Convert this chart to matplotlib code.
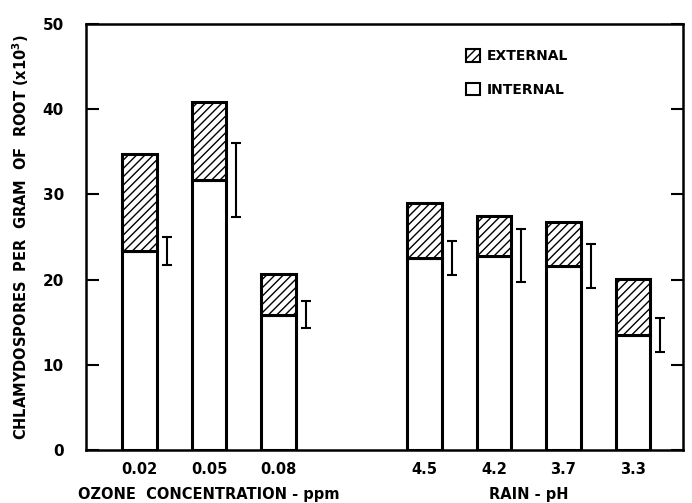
import matplotlib
matplotlib.use('Agg')
import matplotlib.pyplot as plt
from matplotlib.patches import Patch
import numpy as np


# data (x10^3 chlamydospores per gram of root)
labels = ['0.02', '0.05', '0.08', '4.5', '4.2', '3.7', '3.3']
positions = [0, 1, 2, 4.1, 5.1, 6.1, 7.1]
internal = [23.4, 31.7, 15.9, 22.5, 22.8, 21.6, 13.5]
total = [34.8, 40.9, 20.7, 29.0, 27.5, 26.8, 20.1]
internal_err = [1.65, 4.4, 1.6, 2.0, 3.1, 2.55, 2.0]

external = np.array(total) - np.array(internal)

lw = 2.2
width = 0.5
errOffset = 0.39

plt.rcParams['font.family'] = 'DejaVu Sans'
plt.rcParams['font.weight'] = 'bold'
plt.rcParams['hatch.linewidth'] = 1.0

fig = plt.figure(figsize=(6.92, 5.03), dpi=100)
ax = fig.add_axes([0.1243, 0.1054, 0.8627, 0.8466])

ax.bar(positions, internal, width=width, color='white', edgecolor='black',
       linewidth=lw, zorder=2)
ax.bar(positions, external, width=width, bottom=internal, color='white',
       edgecolor='black', hatch='////', linewidth=lw, zorder=2)

# error bars sit just right of each bar, around the internal value
ax.errorbar(np.array(positions) + errOffset, internal, yerr=internal_err,
            fmt='none', ecolor='black', elinewidth=1.5, capsize=3.5,
            capthick=1.5, zorder=3)

ax.set_xlim(-0.77, 7.82)
ax.set_ylim(0, 50)
ax.set_yticks([0, 10, 20, 30, 40, 50])
ax.set_yticklabels(['0', '10', '20', '30', '40', '50'])
ax.set_xticks(positions)
ax.set_xticklabels(labels)

ax.tick_params(axis='y', direction='in', length=9, width=1.5, right=True,
               labelsize=11, pad=16)
ax.tick_params(axis='x', length=0, labelsize=10.5, pad=9)
for s in ax.spines.values():
    s.set_linewidth(1.8)

ax.set_ylabel('CHLAMYDOSPORES  PER  GRAM  OF  ROOT (x10$^\\mathbf{3}$)',
              fontsize=10.5, fontweight='bold', labelpad=8)

ax.text(1, -0.105, 'OZONE  CONCENTRATION - ppm', transform=ax.get_xaxis_transform(),
        ha='center', va='center', fontsize=10.5, fontweight='bold')
ax.text(5.6, -0.105, 'RAIN - pH', transform=ax.get_xaxis_transform(),
        ha='center', va='center', fontsize=10.5, fontweight='bold')

handles = [Patch(facecolor='white', edgecolor='black', hatch='////', linewidth=1.5),
           Patch(facecolor='white', edgecolor='black', linewidth=1.5)]
ax.legend(handles, ['EXTERNAL', 'INTERNAL'], loc='upper left',
          bbox_to_anchor=(0.615, 0.97), frameon=False, fontsize=10,
          handlelength=1.0, handleheight=1.0, handletextpad=0.5,
          labelspacing=1.4)

plt.savefig('out.png', dpi=100)
plt.close()
